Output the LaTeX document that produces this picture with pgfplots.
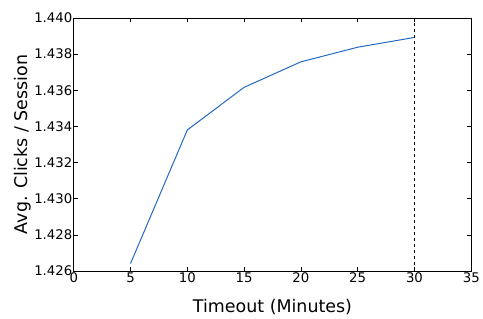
\documentclass[border=0pt]{standalone}
\usepackage{pgfplots}
\pgfplotsset{compat=1.18}
\usepackage{fontspec}
\setmainfont{DejaVu Sans}
\definecolor{mblue}{RGB}{35,105,195}
\begin{document}
\begin{tikzpicture}
\begin{axis}[
  scale only axis,
  width=399pt, height=254pt,
  xmin=0, xmax=35, ymin=1.426, ymax=1.440,
  xtick={0,5,...,35},
  ytick={1.426,1.428,...,1.440},
  /pgf/number format/assume math mode=true,
  yticklabel style={/pgf/number format/fixed,/pgf/number format/fixed zerofill,/pgf/number format/precision=3,font=\fontsize{13.3}{15}\selectfont},
  xticklabel style={font=\fontsize{13.3}{15}\selectfont},
  scaled y ticks=false,
  tick align=inside,
  major tick length=4pt,
  tick style={black, line width=0.6pt},
  axis line style={line width=0.8pt},
  xtick pos=both, ytick pos=both,
  xlabel={Timeout (Minutes)},
  ylabel={Avg. Clicks / Session},
  label style={font=\fontsize{17.5}{20}\selectfont},
  xlabel style={yshift=-10pt},
  ylabel style={yshift=-4pt},
  xticklabel style={yshift=2pt},
  yticklabel style={xshift=2pt},
]
\addplot[mblue, line width=1pt] coordinates {
  (5,1.42641) (10,1.43380) (15,1.43616) (20,1.43757) (25,1.43838) (30,1.43892)
};
\addplot[black, dashed, line width=0.8pt] coordinates {(30,1.426) (30,1.440)};
\end{axis}
\path ([shift={(-74pt,-48pt)}]current axis.south west) rectangle ([shift={(10pt,18pt)}]current axis.north east);
\end{tikzpicture}
\end{document}
